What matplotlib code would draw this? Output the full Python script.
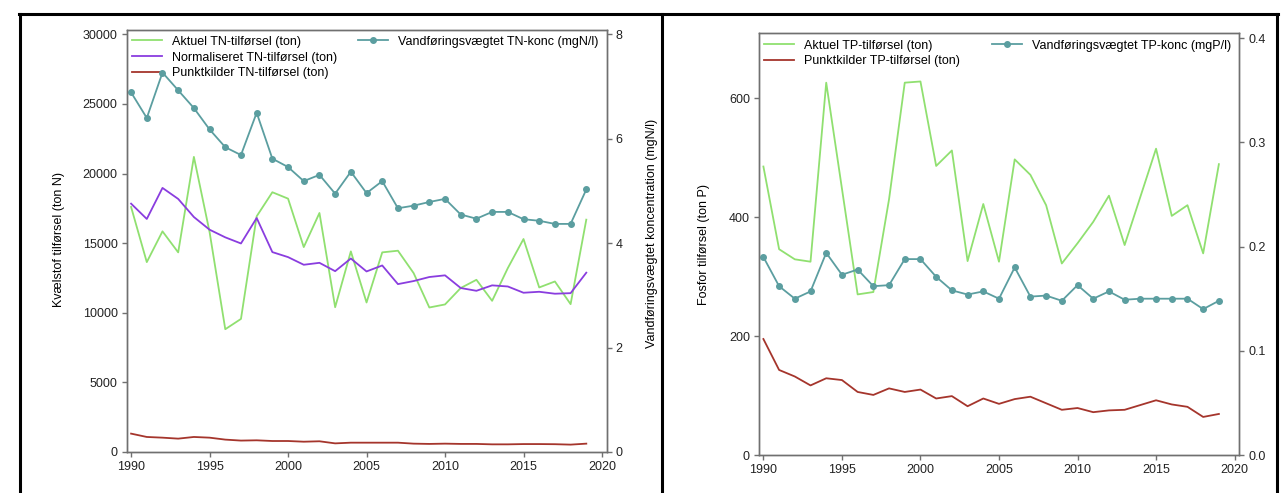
import matplotlib
matplotlib.use('Agg')
import matplotlib.pyplot as plt
from matplotlib.lines import Line2D

plt.rcParams['font.family'] = ['Liberation Sans', 'DejaVu Sans']

years = list(range(1990, 2020))

# TN (venstre figur)
tn_aktuel = [17600, 13640, 15850, 14340, 21200, 15800, 8820, 9560, 16930, 18660,
             18200, 14720, 17170, 10400, 14410, 10740, 14340, 14460, 12850, 10380,
             10600, 11780, 12370, 10860, 13210, 15300, 11820, 12250, 10620, 16690]
tn_normal = [17840, 16740, 18970, 18180, 16880, 15970, 15420, 14980, 16810, 14360,
             14000, 13450, 13590, 12990, 13900, 12970, 13400, 12060, 12280, 12570,
             12690, 11780, 11580, 11970, 11890, 11440, 11510, 11370, 11410, 12880]
tn_punkt = [1320, 1080, 1030, 960, 1080, 1030, 890, 820, 840, 790,
            790, 740, 770, 620, 670, 670, 670, 670, 600, 580,
            600, 580, 580, 550, 550, 570, 570, 560, 530, 600]
tn_konc = [6.89, 6.40, 7.27, 6.93, 6.59, 6.18, 5.84, 5.69, 6.50, 5.62,
           5.46, 5.19, 5.31, 4.95, 5.37, 4.96, 5.19, 4.67, 4.72, 4.79,
           4.85, 4.55, 4.47, 4.60, 4.60, 4.46, 4.43, 4.37, 4.37, 5.03]

# TP (hoejre figur)
tp_aktuel = [485, 346, 329, 325, 626, 448, 270, 274, 430, 626,
             628, 486, 512, 326, 422, 325, 497, 471, 420, 322,
             356, 392, 436, 353, 434, 515, 402, 420, 339, 489]
tp_punkt = [195, 143, 132, 117, 129, 126, 106, 101, 112, 106,
            110, 95, 99, 82, 95, 86, 94, 98, 87, 76,
            79, 72, 75, 76, 84, 92, 85, 81, 64, 69]
tp_konc = [0.190, 0.162, 0.150, 0.157, 0.194, 0.173, 0.178, 0.162, 0.163, 0.188,
           0.188, 0.171, 0.158, 0.154, 0.157, 0.150, 0.180, 0.152, 0.153, 0.148,
           0.163, 0.150, 0.157, 0.149, 0.150, 0.150, 0.150, 0.150, 0.140, 0.148]

xticks = [1990, 1995, 2000, 2005, 2010, 2015, 2020]

green = '#90e070'
purple = '#8a3ddf'
red = '#a5352c'
teal = '#5b9ea0'

W, H = 1281, 493
fig = plt.figure(figsize=(W / 100, H / 100), dpi=100)

ax1 = fig.add_axes([126.7 / W, 1 - 452 / H, 480 / W, 422.5 / H])
ax1b = ax1.twinx()
ax2 = fig.add_axes([759 / W, 1 - 455 / H, 480.3 / W, 421.7 / H])
ax2b = ax2.twinx()

# venstre
l1, = ax1.plot(years, tn_aktuel, color=green, lw=1.3, label='Aktuel TN-tilførsel (ton)')
l2, = ax1.plot(years, tn_normal, color=purple, lw=1.3, label='Normaliseret TN-tilførsel (ton)')
l3, = ax1.plot(years, tn_punkt, color=red, lw=1.3, label='Punktkilder TN-tilførsel (ton)')
l4, = ax1b.plot(years, tn_konc, color=teal, lw=1.3, marker='o', ms=4,
                label='Vandføringsvægtet TN-konc (mgN/l)')
ax1.set_ylim(0, 30350)
ax1b.set_ylim(0, 8.095)
ax1.set_yticks([0, 5000, 10000, 15000, 20000, 25000, 30000])
ax1b.set_yticks([0, 2, 4, 6, 8])
ax1.set_ylabel('Kvælstof tilførsel (ton N)', fontsize=9)
ax1.yaxis.set_label_coords(-0.1285, 0.502)
ax1b.set_ylabel('Vandføringsvægtet koncentration (mgN/l)', fontsize=9)
ax1b.yaxis.set_label_coords(1.082, 0.518)

# hoejre
m1, = ax2.plot(years, tp_aktuel, color=green, lw=1.3, label='Aktuel TP-tilførsel (ton)')
m2, = ax2.plot(years, tp_punkt, color=red, lw=1.3, label='Punktkilder TP-tilførsel (ton)')
m3, = ax2b.plot(years, tp_konc, color=teal, lw=1.3, marker='o', ms=4,
                label='Vandføringsvægtet TP-konc (mgP/l)')
ax2.set_ylim(0, 709)
ax2b.set_ylim(0, 0.4047)
ax2.set_yticks([0, 200, 400, 600])
ax2b.set_yticks([0.0, 0.1, 0.2, 0.3, 0.4])
ax2b.set_yticklabels(['0.0', '0.1', '0.2', '0.3', '0.4'])
ax2.set_ylabel('Fosfor tilførsel (ton P)', fontsize=9)
ax2.yaxis.set_label_coords(-0.102, 0.498)

for a in (ax1, ax2):
    a.set_xlim(1989.72, 2020.3)
    a.set_xticks(xticks)

for a in (ax1, ax1b, ax2, ax2b):
    for s in a.spines.values():
        s.set_color('#707070')
        s.set_linewidth(1.0)
    a.tick_params(colors='#707070', labelcolor='#222222', length=3.5, width=1.0,
                  pad=3, labelsize=9)

leg_kw = dict(frameon=False, borderpad=0, borderaxespad=0, handlelength=2.4,
              handletextpad=0.8, labelspacing=0.3, fontsize=9)
ax1.legend(handles=[l1, l2, l3], loc='upper left', bbox_to_anchor=(0.011, 0.985), **leg_kw)
ax1b.legend(handles=[l4], loc='upper right', bbox_to_anchor=(0.982, 0.985), **leg_kw)
ax2.legend(handles=[m1, m2], loc='upper left', bbox_to_anchor=(0.011, 0.985), **leg_kw)
ax2b.legend(handles=[m3], loc='upper right', bbox_to_anchor=(0.982, 0.985), **leg_kw)

# sorte rammer om de to figurer
ytop = 1 - 13.5 / H
for xp in (20, 662, 1277):
    fig.add_artist(Line2D([xp / W, xp / W], [0, ytop], transform=fig.transFigure,
                          color='black', lw=2.2))
fig.add_artist(Line2D([19 / W, 1278 / W], [ytop, ytop], transform=fig.transFigure,
                      color='black', lw=2.2))

fig.savefig('out.png', dpi=100)
